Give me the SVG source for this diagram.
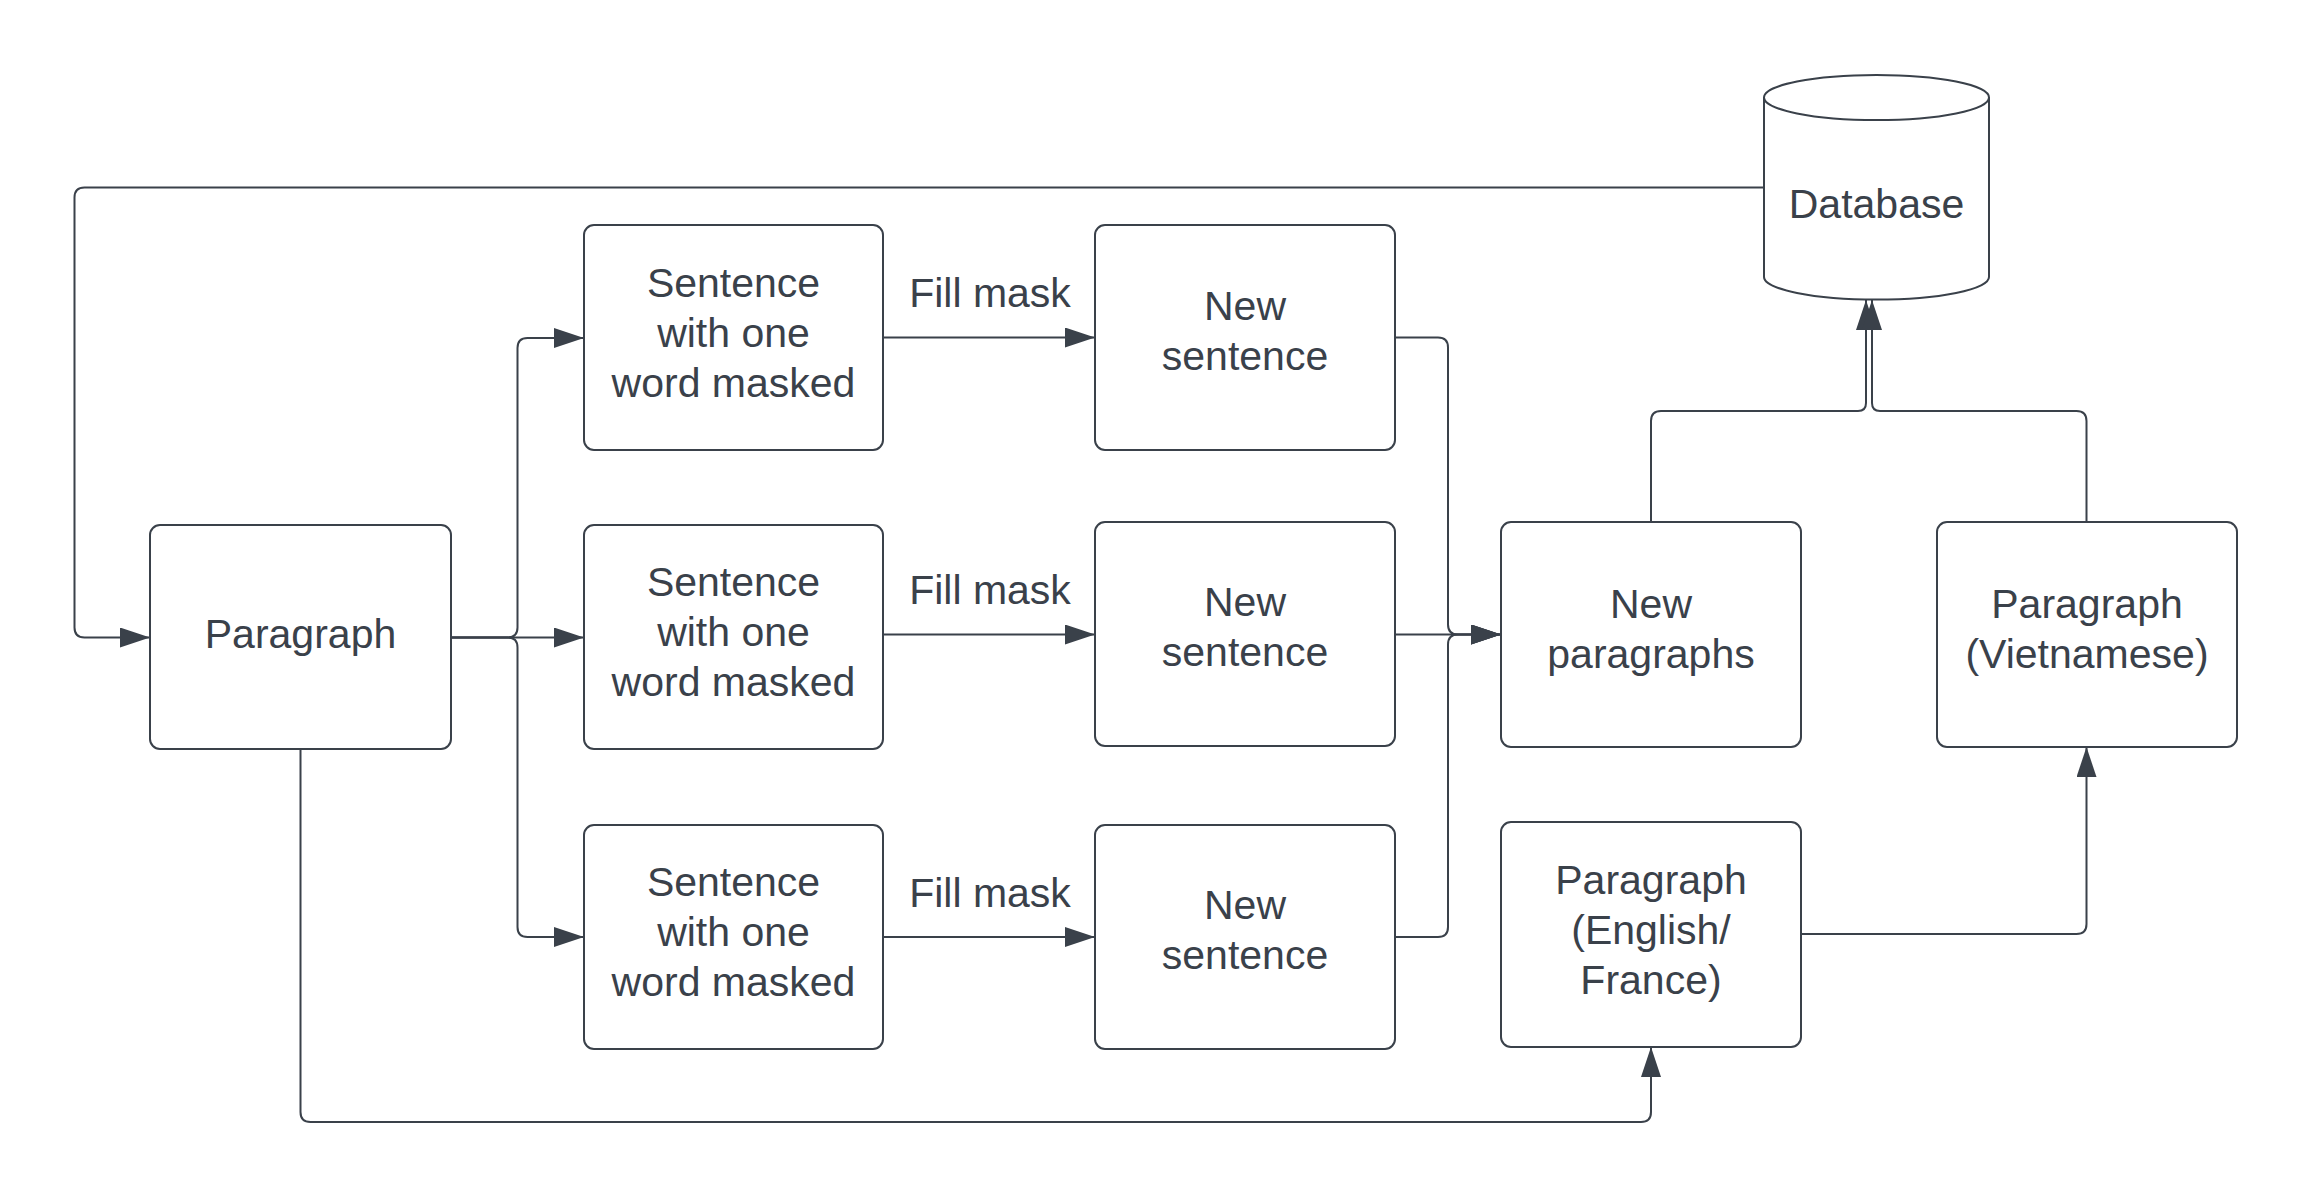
<svg xmlns="http://www.w3.org/2000/svg" width="2312" height="1198" viewBox="0 0 2312 1198">
<style>
.box{fill:#ffffff;stroke:#3a414a;stroke-width:2}
.t{font-family:"Liberation Sans",Arial,sans-serif;font-size:41px;fill:#3a414a;text-anchor:middle}
.c{fill:none;stroke:#3a414a;stroke-width:2}
.a{marker-end:url(#arr)}
</style>
<defs>
<marker id="arr" markerUnits="userSpaceOnUse" markerWidth="30" markerHeight="20" refX="30" refY="10" orient="auto">
<path d="M0,0 L30,10 L0,20 z" fill="#3a414a"/>
</marker>
</defs>
<rect width="2312" height="1198" fill="#ffffff"/>
<g id="connectors">
<path class="c a" d="M1764 187.5 H84.5 Q74.5 187.5 74.5 197.5 V627.5 Q74.5 637.5 84.5 637.5 H150"/>
<path class="c a" d="M451 637.5 H507.5 Q517.5 637.5 517.5 627.5 V348 Q517.5 338 527.5 338 H584"/>
<path class="c a" d="M451 637.5 H584"/>
<path class="c a" d="M451 637.5 H507.5 Q517.5 637.5 517.5 647.5 V927 Q517.5 937 527.5 937 H584"/>
<path class="c a" d="M883 337.5 H1095"/>
<path class="c a" d="M883 634.5 H1095"/>
<path class="c a" d="M883 937 H1095"/>
<text class="t" x="990" y="307">Fill mask</text>
<text class="t" x="990" y="604">Fill mask</text>
<text class="t" x="990" y="907">Fill mask</text>
<path class="c a" d="M1395 337.5 H1438 Q1448 337.5 1448 347.5 V624.5 Q1448 634.5 1458 634.5 H1501"/>
<path class="c a" d="M1395 634.5 H1501"/>
<path class="c a" d="M1395 937 H1438 Q1448 937 1448 927 V644.5 Q1448 634.5 1458 634.5 H1501"/>
<path class="c a" d="M1651 522 V421 Q1651 411 1661 411 H1858 Q1866 411 1866 403 V300"/>
<path class="c a" d="M2086.5 522 V421 Q2086.5 411 2076.5 411 H1880 Q1872 411 1872 403 V300"/>
<path class="c a" d="M300.5 749 V1112 Q300.5 1122 310.5 1122 H1641 Q1651 1122 1651 1112 V1047"/>
<path class="c a" d="M1801 934 H2076.5 Q2086.5 934 2086.5 924 V747"/>
</g>
<g id="paragraph">
<rect class="box" x="150" y="525" width="301" height="224" rx="10"/>
<text class="t" x="300.5" y="648">Paragraph</text>
</g>
<g id="sentence1">
<rect class="box" x="584" y="225" width="299" height="225" rx="10"/>
<text class="t" x="733.5" y="297">Sentence</text>
<text class="t" x="733.5" y="347">with one</text>
<text class="t" x="733.5" y="397">word masked</text>
</g>
<g id="sentence2">
<rect class="box" x="584" y="525" width="299" height="224" rx="10"/>
<text class="t" x="733.5" y="596">Sentence</text>
<text class="t" x="733.5" y="646">with one</text>
<text class="t" x="733.5" y="696">word masked</text>
</g>
<g id="sentence3">
<rect class="box" x="584" y="825" width="299" height="224" rx="10"/>
<text class="t" x="733.5" y="896">Sentence</text>
<text class="t" x="733.5" y="946">with one</text>
<text class="t" x="733.5" y="996">word masked</text>
</g>
<g id="newsentence1">
<rect class="box" x="1095" y="225" width="300" height="225" rx="10"/>
<text class="t" x="1245" y="320">New</text>
<text class="t" x="1245" y="370">sentence</text>
</g>
<g id="newsentence2">
<rect class="box" x="1095" y="522" width="300" height="224" rx="10"/>
<text class="t" x="1245" y="616">New</text>
<text class="t" x="1245" y="666">sentence</text>
</g>
<g id="newsentence3">
<rect class="box" x="1095" y="825" width="300" height="224" rx="10"/>
<text class="t" x="1245" y="919">New</text>
<text class="t" x="1245" y="969">sentence</text>
</g>
<g id="newparagraphs">
<rect class="box" x="1501" y="522" width="300" height="225" rx="10"/>
<text class="t" x="1651" y="618">New</text>
<text class="t" x="1651" y="668">paragraphs</text>
</g>
<g id="vietnamese">
<rect class="box" x="1937" y="522" width="300" height="225" rx="10"/>
<text class="t" x="2087" y="618">Paragraph</text>
<text class="t" x="2087" y="668">(Vietnamese)</text>
</g>
<g id="english">
<rect class="box" x="1501" y="822" width="300" height="225" rx="10"/>
<text class="t" x="1651" y="894">Paragraph</text>
<text class="t" x="1651" y="944">(English/</text>
<text class="t" x="1651" y="994">France)</text>
</g>
<g id="database">
<path class="box" d="M1764 97.5 V277 A112.5 22.5 0 0 0 1989 277 V97.5 A112.5 22.5 0 0 0 1764 97.5 Z"/>
<path class="c" d="M1764 97.5 A112.5 22.5 0 0 0 1989 97.5"/>
<text class="t" x="1876.5" y="218">Database</text>
</g>
</svg>
